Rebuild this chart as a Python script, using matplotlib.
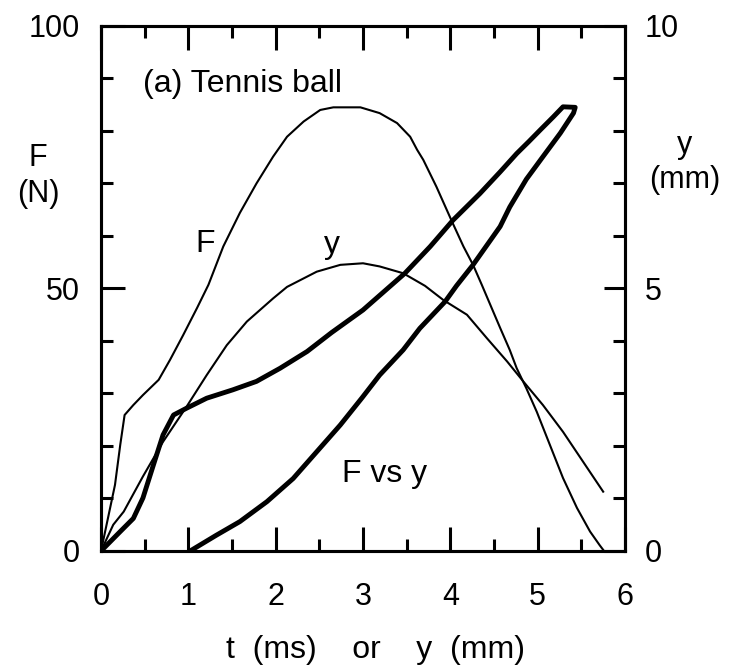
import matplotlib
matplotlib.use("Agg")
import matplotlib.pyplot as plt
from matplotlib.ticker import MultipleLocator

plt.rcParams['font.family'] = ['Liberation Sans', 'DejaVu Sans']

# F(t): t in ms, F in N
f_t = [0, 0.16, 0.22, 0.27, 0.37, 0.48, 0.66, 0.79, 0.94, 1.10, 1.23, 1.40, 1.59,
       1.78, 1.97, 2.13, 2.32, 2.51, 2.66, 2.97, 3.19, 3.39, 3.54, 3.62, 3.69, 3.84,
       4.02, 4.15, 4.26, 4.36, 4.57, 4.68, 4.76, 4.87, 4.99, 5.14, 5.29, 5.45, 5.60,
       5.71, 5.76]
f_val = [0, 12.6, 20.2, 25.9, 27.8, 29.7, 32.6, 36.4, 41.1, 46.3, 50.7, 58.0, 64.4,
         70.0, 75.1, 78.9, 81.8, 84.0, 84.5, 84.5, 83.4, 81.5, 78.9, 76.4, 74.5, 69.4,
         62.7, 58.0, 54.5, 50.7, 42.5, 38.3, 34.8, 31.0, 26.5, 20.2, 13.9, 8.2, 3.7,
         1.1, 0]

# y(t): t in ms, y in mm
y_t = [0, 0.14, 0.26, 0.48, 0.71, 0.98, 1.21, 1.44, 1.67, 1.97, 2.13, 2.47, 2.74,
       3.0, 3.19, 3.46, 3.71, 3.92, 4.19, 4.42, 4.65, 4.84, 5.06, 5.29, 5.52, 5.75]
y_val = [0, 0.50, 0.75, 1.42, 2.08, 2.75, 3.35, 3.92, 4.37, 4.81, 5.03, 5.32, 5.45,
         5.48, 5.42, 5.29, 5.05, 4.78, 4.50, 4.05, 3.61, 3.22, 2.78, 2.27, 1.70, 1.13]

# F vs y loop: y in mm, F in N (loading then unloading)
fy_y = [0, 0.22, 0.37, 0.48, 0.60, 0.71, 0.83, 0.98, 1.21, 1.51, 1.78, 2.05, 2.36,
        2.64, 3.00, 3.48, 3.77, 4.03, 4.34, 4.57, 4.76, 4.90, 5.03, 5.18, 5.29, 5.43,
        5.41, 5.26, 5.06, 4.87, 4.68, 4.57, 4.26, 4.07, 3.94, 3.65, 3.46, 3.19, 2.99,
        2.74, 2.47, 2.20, 1.90, 1.59, 1.32, 1.10, 1.02]
fy_f = [0, 3.7, 6.2, 10.1, 16.4, 22.1, 25.9, 27.2, 29.1, 30.7, 32.3, 34.8, 38.0,
        41.6, 45.9, 52.9, 58.0, 63.0, 68.1, 72.2, 75.7, 78.0, 80.2, 82.7, 84.6, 84.5,
        83.4, 79.6, 75.1, 70.8, 65.5, 61.8, 54.5, 50.5, 47.5, 42.4, 38.3, 33.5, 29.2,
        24.0, 18.9, 13.8, 9.4, 5.6, 3.0, 0.8, 0]

fig = plt.figure(figsize=(7.31, 6.69), dpi=100)
ax = fig.add_axes([0.1382, 0.1764, 0.7168, 0.7848])

ax.plot(f_t, f_val, color='black', lw=1.5, solid_joinstyle='round')
ax.plot(fy_y, fy_f, color='black', lw=3.5, solid_joinstyle='round',
        solid_capstyle='round')
ax.set_xlim(0, 6)
ax.set_ylim(0, 100)

ax2 = ax.twinx()
ax2.plot(y_t, y_val, color='black', lw=1.5, solid_joinstyle='round')
ax2.set_ylim(0, 10)

for a in (ax, ax2):
    for s in a.spines.values():
        s.set_linewidth(2.2)

ax.xaxis.set_major_locator(MultipleLocator(1))
ax.xaxis.set_minor_locator(MultipleLocator(0.5))
ax.yaxis.set_major_locator(MultipleLocator(50))
ax.yaxis.set_minor_locator(MultipleLocator(10))
ax2.yaxis.set_major_locator(MultipleLocator(5))
ax2.yaxis.set_minor_locator(MultipleLocator(1))

ax.tick_params(which='both', direction='in', top=True, right=False, width=2.2,
               labelsize=22)
ax.tick_params(which='major', length=17)
ax.tick_params(which='minor', length=8.5)
ax.tick_params(axis='x', pad=22)
ax.tick_params(axis='y', pad=15)
ax2.tick_params(which='both', direction='in', width=2.2, labelsize=22, pad=14)
ax2.tick_params(which='major', length=15)
ax2.tick_params(which='minor', length=8.5)

fig.text(0.513, 0.016, 't  (ms)    or    y  (mm)', fontsize=23, ha='center',
         va='baseline')

fig.text(0.052, 0.737, 'F\n(N)', fontsize=22, ha='center', va='center',
         linespacing=1.25)
fig.text(0.937, 0.757, 'y\n(mm)', fontsize=22, ha='center', va='center',
         linespacing=1.25)

ax.text(0.48, 87.5, '(a) Tennis ball', fontsize=23, va='baseline')
ax.text(1.08, 57.0, 'F', fontsize=23, va='baseline')
ax.text(2.64, 56.8, 'y', fontsize=23, ha='center', va='baseline')
ax.text(2.76, 13.2, 'F vs y', fontsize=23, va='baseline')

fig.savefig('out.png', dpi=100)
